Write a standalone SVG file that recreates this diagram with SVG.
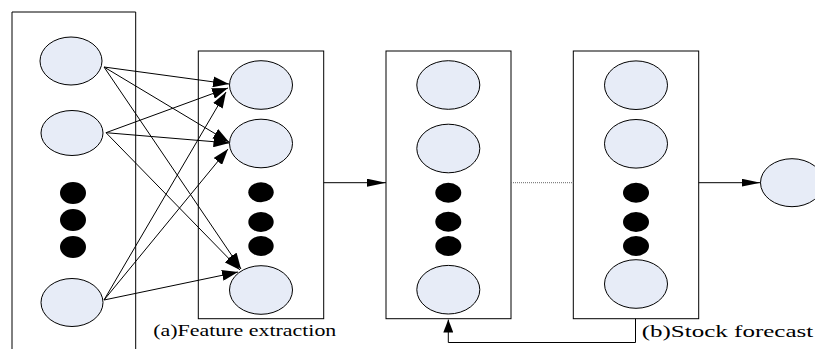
<svg xmlns="http://www.w3.org/2000/svg" width="815" height="349" viewBox="0 0 815 349">
<defs>
<marker id="ah" viewBox="0 0 16 11" refX="16" refY="5.5" markerWidth="16" markerHeight="11" markerUnits="userSpaceOnUse" orient="auto">
<path d="M0,0 L16,5.5 L0,11 Z" fill="#000"/>
</marker>
<marker id="ahl" viewBox="0 0 19 8" refX="19" refY="4" markerWidth="19" markerHeight="8" markerUnits="userSpaceOnUse" orient="auto">
<path d="M0,0 L19,4 L0,8 Z" fill="#000"/>
</marker>
<marker id="ahf" viewBox="0 0 13 10" refX="13" refY="5" markerWidth="13" markerHeight="10" markerUnits="userSpaceOnUse" orient="auto">
<path d="M0,0 L13,5 L0,10 Z" fill="#000"/>
</marker>
</defs>
<style>
.box{fill:#fff;stroke:#000;stroke-width:1}
.n{fill:#e7ecf7;stroke:#000;stroke-width:1}
.d{fill:#000}
.c{fill:none;stroke:#000;stroke-width:1}
.lbl{font-family:"Liberation Serif","Times New Roman",serif;font-size:17px;fill:#000}
</style>
<rect width="815" height="349" fill="#fff"/>
<g id="input-layer">
<path class="c" d="M12,349 V12 H135.7 V349"/>
<ellipse class="n" cx="71" cy="61" rx="31" ry="24"/>
<ellipse class="n" cx="72" cy="133" rx="31" ry="22.5"/>
<ellipse class="d" cx="73" cy="193" rx="13" ry="11"/>
<ellipse class="d" cx="73" cy="220" rx="13" ry="11"/>
<ellipse class="d" cx="73" cy="247" rx="13" ry="11"/>
<ellipse class="n" cx="72" cy="302.5" rx="31" ry="24"/>
</g>
<g id="feature-layer">
<rect class="box" x="198.3" y="51" width="125.4" height="267.7"/>
<ellipse class="n" cx="261" cy="85" rx="31.5" ry="24.3"/>
<ellipse class="n" cx="261" cy="143.5" rx="31.5" ry="24.3"/>
<ellipse class="d" cx="261" cy="192.3" rx="12.7" ry="10"/>
<ellipse class="d" cx="261" cy="222" rx="12.7" ry="10"/>
<ellipse class="d" cx="261" cy="246" rx="12.7" ry="10"/>
<ellipse class="n" cx="261" cy="290" rx="31.5" ry="24.3"/>
</g>
<g id="lstm-layer-1">
<rect class="box" x="386" y="51" width="125" height="267.7"/>
<ellipse class="n" cx="448.3" cy="85" rx="31.5" ry="24.3"/>
<ellipse class="n" cx="448.3" cy="148.5" rx="31.5" ry="24.3"/>
<ellipse class="d" cx="448.3" cy="192.7" rx="13" ry="10"/>
<ellipse class="d" cx="448.3" cy="221.7" rx="13" ry="10"/>
<ellipse class="d" cx="448.3" cy="246" rx="13" ry="10"/>
<ellipse class="n" cx="448.3" cy="289.7" rx="31.5" ry="24.3"/>
</g>
<g id="lstm-layer-2">
<rect class="box" x="573.3" y="51" width="125.4" height="267.7"/>
<ellipse class="n" cx="636" cy="85.2" rx="31.5" ry="24.3"/>
<ellipse class="n" cx="636" cy="143.8" rx="31.5" ry="24.3"/>
<ellipse class="d" cx="636" cy="192.7" rx="13" ry="10"/>
<ellipse class="d" cx="636" cy="222" rx="13" ry="10"/>
<ellipse class="d" cx="636" cy="246" rx="13" ry="10"/>
<ellipse class="n" cx="636" cy="284" rx="31.5" ry="24.3"/>
</g>
<g id="output-node">
<ellipse class="n" cx="792" cy="182.7" rx="31.5" ry="24"/>
</g>
<g id="connectors">
<line class="c" x1="104" y1="67" x2="229" y2="84" marker-end="url(#ah)"/>
<line class="c" x1="104" y1="67" x2="229" y2="142" marker-end="url(#ah)"/>
<line class="c" x1="104" y1="67" x2="241" y2="269" marker-end="url(#ah)"/>
<line class="c" x1="106" y1="132.7" x2="228" y2="88" marker-end="url(#ah)"/>
<line class="c" x1="106" y1="132.7" x2="229.5" y2="143" marker-end="url(#ah)"/>
<line class="c" x1="106" y1="132.7" x2="240" y2="270" marker-end="url(#ah)"/>
<line class="c" x1="104" y1="300" x2="226" y2="92" marker-end="url(#ah)"/>
<line class="c" x1="104" y1="300" x2="228" y2="149" marker-end="url(#ah)"/>
<line class="c" x1="104" y1="300" x2="238" y2="272" marker-end="url(#ah)"/>
<line class="c" x1="323.7" y1="182.7" x2="386" y2="182.7" marker-end="url(#ahl)"/>
<line x1="511" y1="182.7" x2="573.3" y2="182.7" stroke="#666" stroke-width="1" stroke-dasharray="1,1"/>
<line class="c" x1="698.7" y1="182.7" x2="760.5" y2="182.7" marker-end="url(#ahl)"/>
<path class="c" d="M635.5,318.7 V342.5 H448.3 V319.5" marker-end="url(#ahf)"/>
</g>
<text class="lbl" x="153.3" y="335.5" textLength="183" lengthAdjust="spacingAndGlyphs">(a)Feature extraction</text>
<text class="lbl" x="641.7" y="336.5" textLength="171.5" lengthAdjust="spacingAndGlyphs">(b)Stock forecast</text>
</svg>
